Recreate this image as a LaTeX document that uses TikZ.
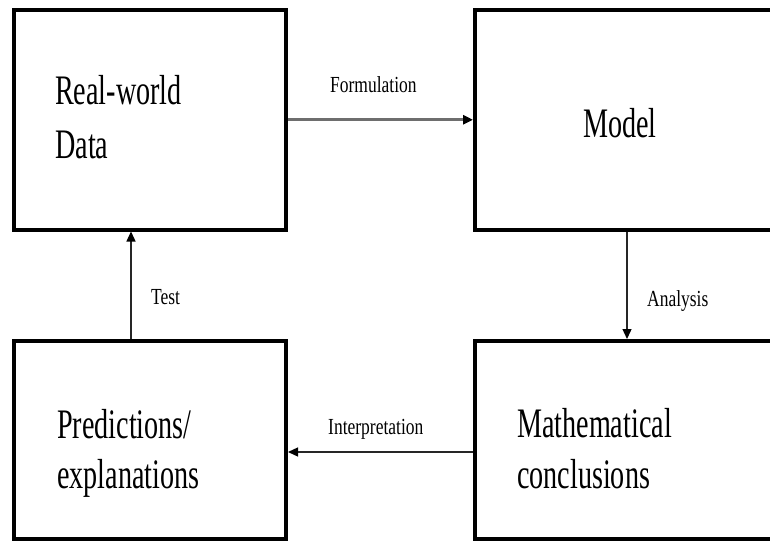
\documentclass[tikz,border=0pt]{standalone}
\usepackage{fontspec}
\setmainfont{Liberation Serif}[FakeStretch=0.67]
\newfontfamily\lblfont{Liberation Serif}[FakeStretch=0.76]
\usetikzlibrary{arrows.meta}
\definecolor{lineg}{RGB}{110,110,110}
\tikzset{
  box/.style={draw=black, line width=4pt, fill=white, rectangle, inner sep=0pt},
  bigtxt/.style={anchor=base west, inner sep=0pt, font=\fontsize{42}{50}\selectfont},
  lbl/.style={anchor=base west, inner sep=0pt, font=\lblfont\fontsize{23}{27}\selectfont},
  arr/.style={line width=1.3pt, draw=black!85, -{Triangle[length=10pt,width=9pt,color=black]}},
  garr/.style={line width=3pt, draw=lineg, -{Triangle[length=10pt,width=9pt,color=black]}}
}
\begin{document}
\begin{tikzpicture}[x=1pt,y=-1pt]
\useasboundingbox (0,0) rectangle (770,541);
\clip (0,0) rectangle (770,541);
\fill[white] (0,0) rectangle (770,541);
% boxes
\node[box, minimum width=272pt, minimum height=219.5pt] (rw) at (150,119.75) {};
\node[box, minimum width=305pt, minimum height=219.5pt] (model) at (627.5,119.75) {};
\node[box, minimum width=272pt, minimum height=198pt] (pred) at (150,440) {};
\node[box, minimum width=305pt, minimum height=198pt] (math) at (627.5,440) {};
% box texts
\node[bigtxt] (t1) at (55,104) {Real-world};
\node[bigtxt] (t2) at (55,158) {Data};
\node[anchor=base, inner sep=0pt, font=\fontsize{42}{50}\selectfont] (t3) at (620,137) {Model};
\node[bigtxt] (t4) at (57,438) {Predictions/};
\node[bigtxt] (t5) at (57,488) {explanations};
\node[bigtxt] (t6) at (517,437) {Mathematical};
\node[bigtxt] (t7) at (517,488) {conclusions};
% connectors
\draw[garr] (rw.east) -- (model.west);
\draw[arr] ([xshift=154pt]model.south west) -- ([xshift=154pt]math.north west);
\draw[arr] ([yshift=-12pt]math.west) -- ([yshift=-12pt]pred.east);
\draw[arr] ([xshift=119pt]pred.north west) -- ([xshift=119pt]rw.south west);
% connector labels
\node[lbl] (l1) at (330,92) {Formulation};
\node[lbl] (l2) at (647,306) {Analysis};
\node[lbl] (l3) at (328,434) {Interpretation};
\node[lbl] (l4) at (151,304) {Test};
\end{tikzpicture}
\end{document}
